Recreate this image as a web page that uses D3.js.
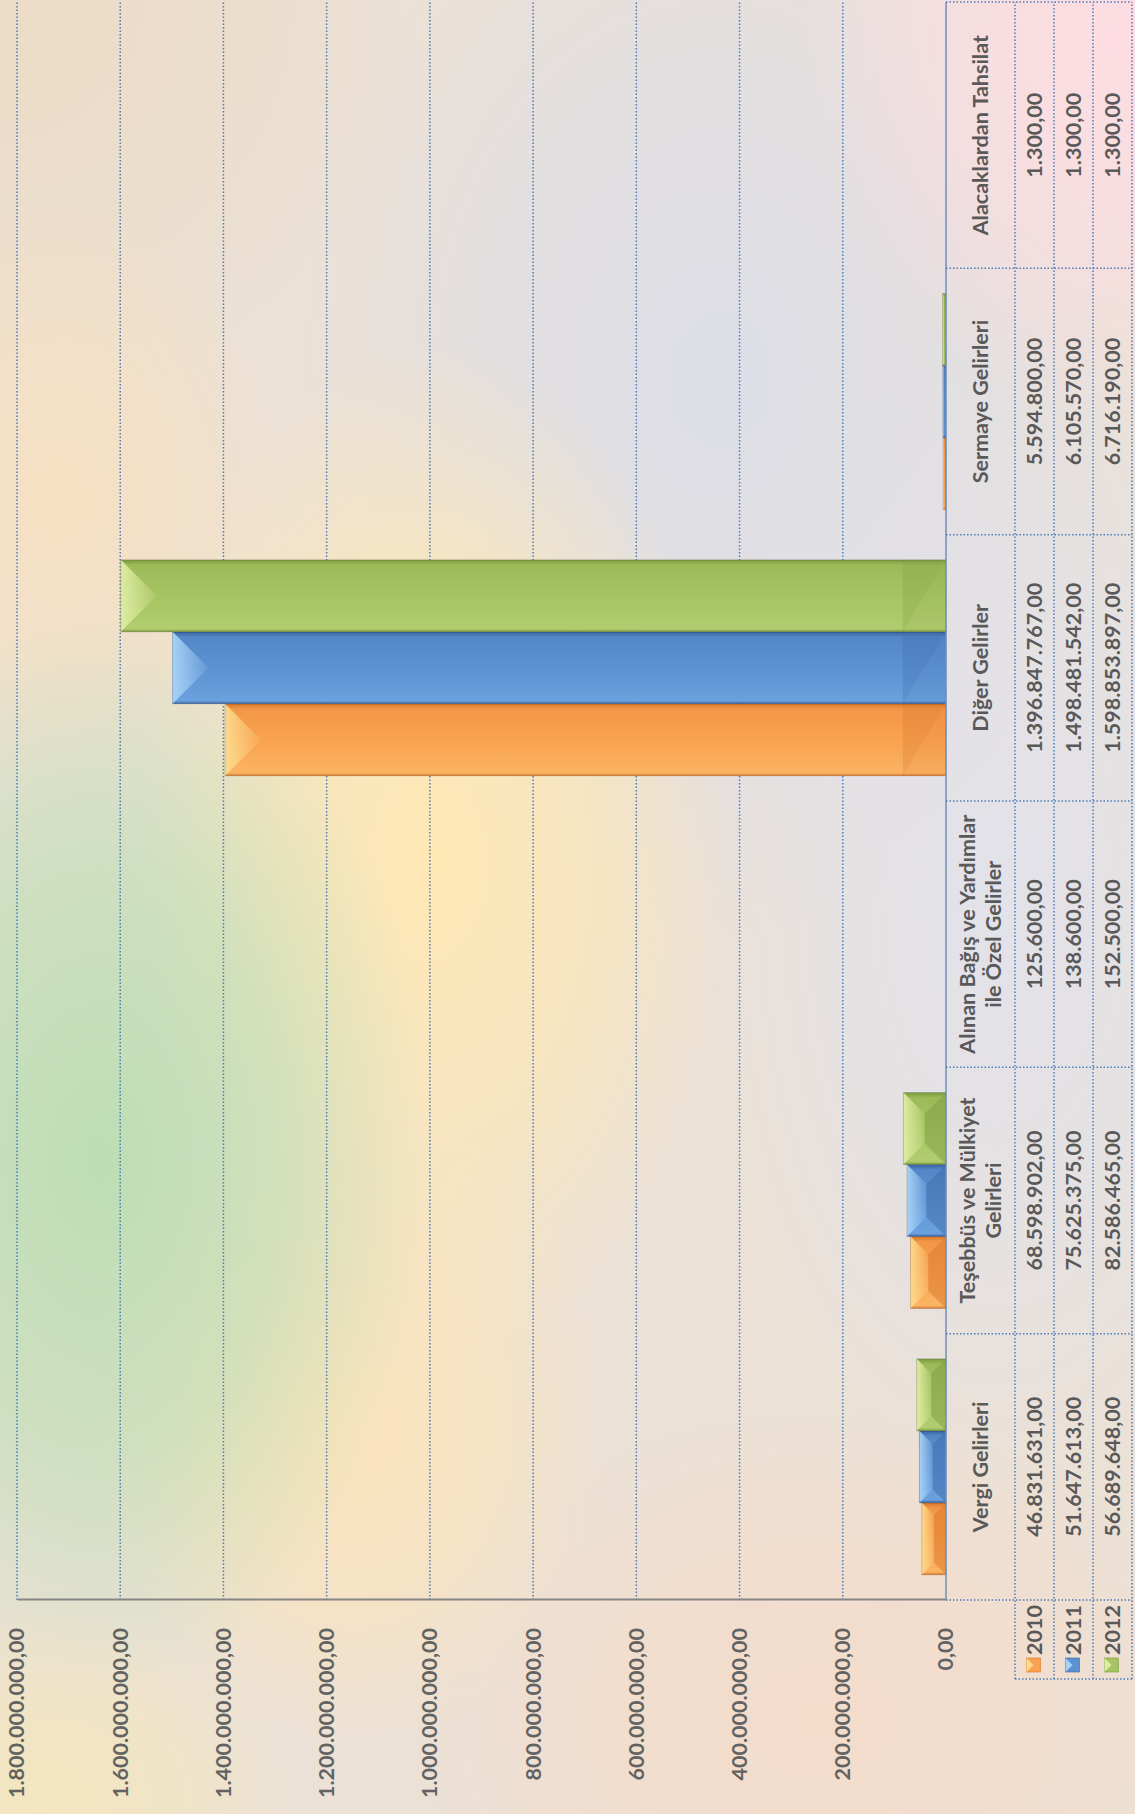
<!DOCTYPE html>
<html>
<head>
<meta charset="utf-8">
<script src="https://cdn.jsdelivr.net/npm/d3@7"></script>
<style>
  body { margin: 0; }
  svg { display: block; }
</style>
</head>
<body>
<div id="chart"></div>
<script>
// Chart data (values in TL).
var categories = ["Vergi Gelirleri", "Teşebbüs ve Mülkiyet Gelirleri",
  "Alınan Bağış ve Yardımlar ile Özel Gelirler", "Diğer Gelirler",
  "Sermaye Gelirleri", "Alacaklardan Tahsilat"];
var categoryLines = [["Vergi Gelirleri"], ["Teşebbüs ve Mülkiyet", "Gelirleri"],
  ["Alınan Bağış ve Yardımlar", "ile Özel Gelirler"], ["Diğer Gelirler"],
  ["Sermaye Gelirleri"], ["Alacaklardan Tahsilat"]];
var years = ["2010", "2011", "2012"];
var values2010 = [46831631, 68598902, 125600, 1396847767, 5594800, 1300];
var values2011 = [51647613, 75625375, 138600, 1498481542, 6105570, 1300];
var values2012 = [56689648, 82586465, 152500, 1598853897, 6716190, 1300];
var valueTicks = [0, 200000000, 400000000, 600000000, 800000000, 1000000000,
  1200000000, 1400000000, 1600000000, 1800000000];

var seriesValues = [values2010, values2011, values2012];

// The chart is laid out as a normal column chart with a data table below it
// and then the whole thing is turned a quarter turn counter-clockwise.
var width = 1135,
    height = 1814,
    plotLength = 1598,      // along the categories
    baseY = 1600,           // screen y where the first category starts
    valueZero = 946,
    valueMax = 17,
    rowHeader = [946, 1015],
    rowEdges = [1015, 1054, 1093, 1132],
    legendLength = 79,
    textColor = "#595959",
    gridColor = "#4a7ebb";

var palette = {
  "2010": {dark: "#d8772c", light: "#fbb462", mid: "#f8a24f", side: "#f29747", end: "#fdd98c", base: "#d9772e"},
  "2011": {dark: "#3a62a0", light: "#6aa1de", mid: "#5d92d2", side: "#5387c7", end: "#a6d2f7", base: "#3f6cab"},
  "2012": {dark: "#789a3f", light: "#b1cd70", mid: "#a6c462", side: "#9bba58", end: "#dfeca2", base: "#809e45"}
};

var trFormat = d3.formatLocale({decimal: ",", thousands: ".", grouping: [3], currency: ["", ""]})
  .format(",.2f");

var svg = d3.select("#chart").append("svg")
  .attr("width", width)
  .attr("height", height);

var defs = svg.append("defs");

// Soft coloured background made of a few blurred patches.
var blobs = [
  {cx: 0, cy: 0, rx: 420, ry: 420, color: "#ecdcc6"},
  {cx: 720, cy: 380, rx: 420, ry: 560, color: "#dddee7"},
  {cx: 1000, cy: 900, rx: 300, ry: 600, color: "#e2e2ea"},
  {cx: 1130, cy: 40, rx: 330, ry: 380, color: "#fedde3"},
  {cx: 60, cy: 500, rx: 230, ry: 300, color: "#f6e0c2"},
  {cx: 430, cy: 860, rx: 300, ry: 520, color: "#ffe8b4"},
  {cx: 350, cy: 1420, rx: 260, ry: 330, color: "#fce4bb"},
  {cx: 100, cy: 1160, rx: 330, ry: 540, color: "#bcdeb3"},
  {cx: 40, cy: 1800, rx: 260, ry: 200, color: "#f3e6bf"},
  {cx: 820, cy: 1720, rx: 420, ry: 320, color: "#f4dccb"}
];

svg.append("rect")
  .attr("width", width)
  .attr("height", height)
  .attr("fill", "#ebe1d6");

blobs.forEach(function (b, i) {
  var grad = defs.append("radialGradient").attr("id", "blob" + i);
  grad.append("stop").attr("offset", 0).attr("stop-color", b.color).attr("stop-opacity", 1);
  grad.append("stop").attr("offset", 0.55).attr("stop-color", b.color).attr("stop-opacity", 0.6);
  grad.append("stop").attr("offset", 1).attr("stop-color", b.color).attr("stop-opacity", 0);
  svg.append("ellipse")
    .attr("cx", b.cx).attr("cy", b.cy)
    .attr("rx", b.rx).attr("ry", b.ry)
    .attr("fill", "url(#blob" + i + ")");
});

// Gradients for the bevelled bars.
years.forEach(function (yr) {
  var c = palette[yr];
  var body = defs.append("linearGradient").attr("id", "body" + yr)
    .attr("x1", 0).attr("x2", 1).attr("y1", 0).attr("y2", 0);
  [[0, c.dark], [0.04, c.light], [0.5, c.mid], [0.93, c.side], [1, c.dark]].forEach(function (s) {
    body.append("stop").attr("offset", s[0]).attr("stop-color", s[1]);
  });
  var end = defs.append("linearGradient").attr("id", "end" + yr)
    .attr("x1", 0).attr("x2", 0).attr("y1", 0).attr("y2", 1);
  end.append("stop").attr("offset", 0).attr("stop-color", c.end).attr("stop-opacity", 1);
  end.append("stop").attr("offset", 1).attr("stop-color", c.end).attr("stop-opacity", 0.1);
});

var g = svg.append("g")
  .attr("transform", "translate(0," + baseY + ") rotate(-90)");

// Scales.
var x0 = d3.scaleBand()
  .domain(categories)
  .range([0, plotLength]);

var x1 = d3.scaleBand()
  .domain(years)
  .range([0, x0.bandwidth()])
  .paddingOuter(0.35);

var y = d3.scaleLinear()
  .domain([0, 1800000000])
  .range([valueZero, valueMax]);

// Gridlines.
g.append("g")
  .selectAll("line")
  .data(valueTicks.filter(function (d) { return d > 0; }))
  .enter().append("line")
    .attr("x1", 0)
    .attr("x2", plotLength)
    .attr("y1", function (d) { return y(d); })
    .attr("y2", function (d) { return y(d); })
    .attr("stroke", gridColor)
    .attr("stroke-width", 1.5)
    .attr("stroke-dasharray", "1.5,2");

// Value axis.
var axis = g.append("g")
  .call(d3.axisLeft(y)
    .tickValues(valueTicks)
    .tickFormat(trFormat)
    .tickSize(0)
    .tickSizeOuter(0)
    .tickPadding(28));
axis.select(".domain")
  .attr("stroke", "#868686")
  .attr("stroke-width", 2);
axis.selectAll("text")
  .attr("fill", "#626262")
  .style("font-family", "Lato, 'DejaVu Sans', sans-serif")
  .style("font-weight", "bold")
  .style("font-size", "21.5px");

// Bars.
var groups = g.append("g")
  .selectAll("g")
  .data(categories)
  .enter().append("g")
    .attr("transform", function (d) { return "translate(" + x0(d) + ",0)"; });

groups.selectAll("g")
  .data(function (d, i) {
    return years.map(function (yr, j) { return {year: yr, value: seriesValues[j][i]}; });
  })
  .enter().append("g")
    .each(function (d) {
      var sel = d3.select(this),
          t = x1.bandwidth(),
          left = x1(d.year),
          top = y(d.value),
          len = y(0) - top,
          b = Math.min(t / 2, len / 2);
      if (len < 0.5) return;
      sel.append("rect")
        .attr("x", left)
        .attr("y", top)
        .attr("width", t)
        .attr("height", len)
        .attr("fill", "url(#body" + d.year + ")");
      sel.append("path")
        .attr("d", "M" + left + "," + top + "H" + (left + t) +
          "L" + (left + t - b) + "," + (top + b) + "H" + (left + b) + "Z")
        .attr("fill", "url(#end" + d.year + ")");
      // base end: faint square with one darker half
      if (len > t) {
        sel.append("rect")
          .attr("x", left).attr("y", valueZero - t * 0.6)
          .attr("width", t).attr("height", t * 0.6)
          .attr("fill", palette[d.year].base)
          .attr("fill-opacity", 0.12);
        sel.append("path")
          .attr("d", "M" + left + "," + (valueZero - t * 0.6) + "L" + (left + t) + "," + valueZero +
            "V" + (valueZero - t * 0.6) + "Z")
          .attr("fill", palette[d.year].base)
          .attr("fill-opacity", 0.18);
      } else {
        sel.append("path")
          .attr("d", "M" + left + "," + valueZero + "H" + (left + t) +
            "L" + (left + t - b) + "," + (valueZero - b) + "H" + (left + b) + "Z")
          .attr("fill", palette[d.year].base)
          .attr("fill-opacity", 0.5);
      }
      sel.append("rect")
        .attr("x", left)
        .attr("y", top)
        .attr("width", t)
        .attr("height", len)
        .attr("fill", "none")
        .attr("stroke", "#000")
        .attr("stroke-opacity", 0.15)
        .attr("stroke-width", 1);
    });

// Category axis line.
g.append("line")
  .attr("x1", 0).attr("x2", plotLength)
  .attr("y1", valueZero).attr("y2", valueZero)
  .attr("stroke", "#6f8fbd")
  .attr("stroke-width", 1.5);

// Data table grid.
var table = g.append("g")
  .attr("stroke", gridColor)
  .attr("stroke-width", 1.5)
  .attr("stroke-dasharray", "1.5,2")
  .attr("fill", "none");

rowEdges.forEach(function (v) {
  table.append("line")
    .attr("x1", -legendLength).attr("x2", plotLength)
    .attr("y1", v).attr("y2", v);
});
x0.domain().map(function (d) { return x0(d); }).concat([plotLength]).forEach(function (u) {
  table.append("line")
    .attr("x1", u).attr("x2", u)
    .attr("y1", rowHeader[0]).attr("y2", rowEdges[rowEdges.length - 1]);
});
table.append("line")
  .attr("x1", -legendLength).attr("x2", -legendLength)
  .attr("y1", rowEdges[0]).attr("y2", rowEdges[rowEdges.length - 1]);

var tableFont = "Lato, 'DejaVu Sans', sans-serif",
    tableSize = "21.5px";

// Category labels.
var headerMid = (rowHeader[0] + rowHeader[1]) / 2;
categories.forEach(function (cat, i) {
  var lines = categoryLines[i];
  lines.forEach(function (line, k) {
    g.append("text")
      .attr("x", x0(cat) + x0.bandwidth() / 2)
      .attr("y", headerMid + (k - (lines.length - 1) / 2) * 26.5)
      .attr("dy", "0.36em")
      .attr("text-anchor", "middle")
      .attr("fill", textColor)
      .style("font-family", tableFont)
      .style("font-weight", "bold")
      .style("font-size", tableSize)
      .text(line);
  });
});

// Value cells and legend keys.
years.forEach(function (yr, j) {
  var mid = (rowEdges[j] + rowEdges[j + 1]) / 2;
  categories.forEach(function (cat, i) {
    g.append("text")
      .attr("x", x0(cat) + x0.bandwidth() / 2)
      .attr("y", mid)
      .attr("dy", "0.36em")
      .attr("text-anchor", "middle")
      .attr("fill", textColor)
      .style("font-family", tableFont)
      .style("font-weight", "bold")
      .style("font-size", tableSize)
      .text(trFormat(seriesValues[j][i]));
  });
  var c = palette[yr];
  g.append("rect")
    .attr("x", -72).attr("y", mid - 8)
    .attr("width", 14).attr("height", 14)
    .attr("fill", c.mid)
    .attr("stroke", c.dark).attr("stroke-width", 0.6);
  g.append("path")
    .attr("d", "M-72," + (mid - 8) + "H-58L-65," + (mid - 1) + "Z")
    .attr("fill", c.end);
  g.append("text")
    .attr("x", -55)
    .attr("y", mid)
    .attr("dy", "0.36em")
    .attr("fill", textColor)
    .style("font-family", tableFont)
    .style("font-weight", "bold")
    .style("font-size", tableSize)
    .text(yr);
});
</script>
</body>
</html>
